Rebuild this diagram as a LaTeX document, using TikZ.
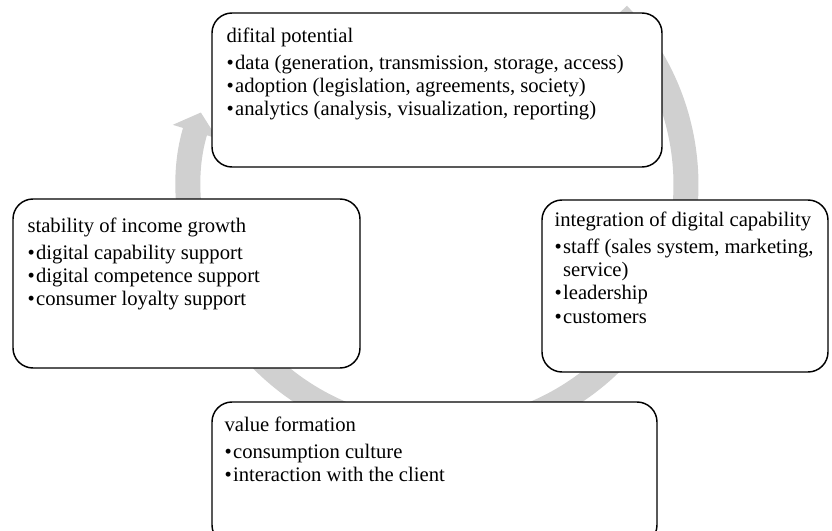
\documentclass[tikz,border=0pt]{standalone}
\usepackage{fontspec}
\setmainfont{Liberation Serif}
\usetikzlibrary{arrows.meta,fit,positioning}
\definecolor{ringgray}{RGB}{208,208,208}
\newcommand{\bul}{\textbullet\kern1pt}

\begin{document}
\begin{tikzpicture}[x=0.75pt,y=0.75pt,
        box/.style={draw,line width=1.1pt,rounded corners=15pt,fill=white,inner sep=0pt},
        txt/.style={anchor=north west,align=left,inner sep=0pt,
                font=\fontsize{15.5}{17.6}\selectfont},
        ring/.style={line width=18.75pt,color=ringgray,
                -{Triangle[length=15pt,width=34pt]}}]
        \useasboundingbox (0,0) rectangle (832,-531);

        % grey cycle behind the boxes
        \coordinate (ctr) at (438,-185);
        \draw[ring] ([shift={(43.5:248)}]ctr) arc[start angle=43.5,end angle=-197,radius=248];

        % the four stages
        \node[box,fit={(212,-13) (662,-167)}] (pot) {};
        \node[box,fit={(13,-199) (360,-368)}] (stab) {};
        \node[box,fit={(542,-200) (828,-372)}] (integ) {};
        \node[box,fit={(212,-402) (657,-545)}] (val) {};

        \node[txt] (pot-t) at ([shift={(15,-15)}]pot.north west)
                {difital potential\\[2.6pt]
                 \bul data (generation, transmission, storage, access)\\
                 \bul adoption (legislation, agreements, society)\\
                 \bul analytics (analysis, visualization, reporting)};
        \node[txt] (stab-t) at ([shift={(15,-19)}]stab.north west)
                {stability of income growth\\[2.6pt]
                 \bul digital capability support\\
                 \bul digital competence support\\
                 \bul consumer loyalty support};
        \node[txt] (integ-t) at ([shift={(13,-12)}]integ.north west)
                {integration of digital capability\\[2.6pt]
                 \bul staff (sales system, marketing,\\
                 \hphantom{\bul}service)\\
                 \bul leadership\\
                 \bul customers};
        \node[txt] (val-t) at ([shift={(13,-15)}]val.north west)
                {value formation\\[2.6pt]
                 \bul consumption culture\\
                 \bul interaction with the client};
\end{tikzpicture}
\end{document}
